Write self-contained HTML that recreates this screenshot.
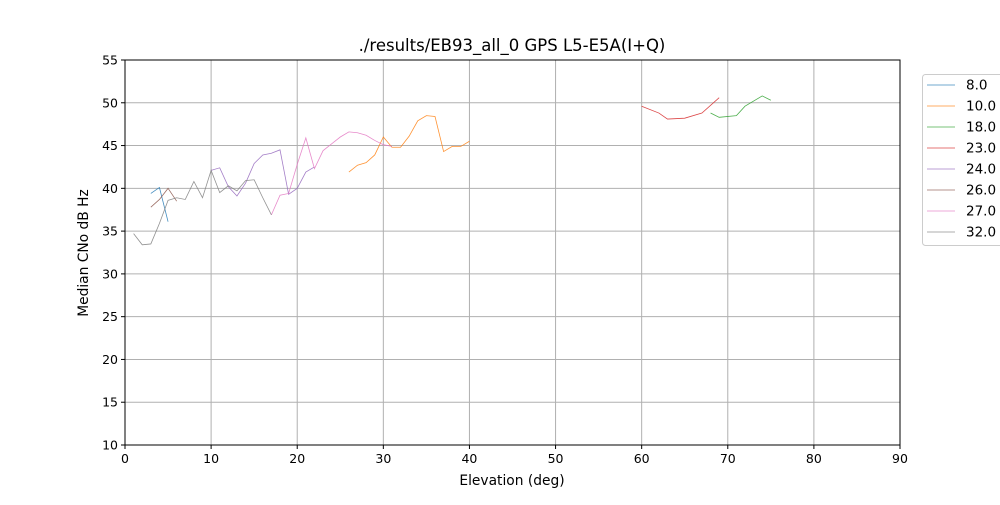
<!DOCTYPE html>
<html><head><meta charset="utf-8"><style>
body{margin:0;background:#fff;font-family:"Liberation Sans","DejaVu Sans",sans-serif}
</style></head><body>
<svg id="chart" width="1000" height="500" xmlns="http://www.w3.org/2000/svg" font-family="DejaVu Sans, Liberation Sans, sans-serif">
<rect width="1000" height="500" fill="#fff"/>
<g id="grid"></g><g id="series"></g><g id="axes"></g>
</svg>
<script>
const xTicks=[0,10,20,30,40,50,60,70,80,90];
const yTicks=[10,15,20,25,30,35,40,45,50,55];
const seriesNames=["8.0","10.0","18.0","23.0","24.0","26.0","27.0","32.0"];
const seriesColors=["#1f77b4","#ff7f0e","#2ca02c","#d62728","#9467bd","#8c564b","#e377c2","#7f7f7f"];
const x8=[3,4,5]; const y8=[39.4,40.1,36.1];
const x10=[26,27,28,29,30,31,32,33,34,35,36,37,38,39,40];
const y10=[41.9,42.7,43.0,43.9,46.0,44.8,44.8,46.1,47.9,48.5,48.4,44.3,44.9,44.9,45.5];
const x18=[68,69,71,72,74,75]; const y18=[48.8,48.3,48.5,49.6,50.8,50.3];
const x23=[60,62,63,65,67,69]; const y23=[49.6,48.8,48.1,48.2,48.8,50.6];
const x24=[10,11,12,13,14,15,16,17,18,19,20,21,22];
const y24=[42.1,42.4,40.2,39.1,40.6,42.9,43.9,44.1,44.5,39.3,40.0,41.9,42.5];
const x26=[3,4,5,6]; const y26=[37.8,38.7,40.0,38.5];
const x27=[17,18,19,20,21,22,23,24,25,26,27,28,29,30,31];
const y27=[36.9,39.2,39.4,42.8,45.9,42.3,44.4,45.2,46.0,46.6,46.5,46.2,45.6,45.1,44.9];
const x32=[1,2,3,4,5,6,7,8,9,10,11,12,13,14,15,16,17];
const y32=[34.7,33.4,33.5,35.9,38.6,38.9,38.7,40.8,38.9,42.1,39.5,40.3,39.7,40.9,41.0,38.9,36.9];
const seriesX=[x8,x10,x18,x23,x24,x26,x27,x32];
const seriesY=[y8,y10,y18,y23,y24,y26,y27,y32];
const L=125,R=900,T=60,B=445;
const sx=v=>L+(v-0)/(90-0)*(R-L);
const sy=v=>B-(v-10)/(55-10)*(B-T);
const NS="http://www.w3.org/2000/svg";
function mk(tag,attrs,parent){const e=document.createElementNS(NS,tag);for(const k in attrs)e.setAttribute(k,attrs[k]);parent.appendChild(e);return e;}
const grid=document.getElementById('grid'),ser=document.getElementById('series'),ax=document.getElementById('axes');
xTicks.forEach(t=>{const l=mk('line',{x1:sx(t),x2:sx(t),y1:T,y2:B,stroke:'#b0b0b0','stroke-width':1},grid);


mk('line',{x1:sx(t),x2:sx(t),y1:B,y2:B+4,stroke:'#000'},ax);
const tx=mk('text',{x:sx(t),y:B+18,'text-anchor':'middle','font-size':12.5},ax);tx.textContent=t;

});
yTicks.forEach(t=>{const l=mk('line',{x1:L,x2:R,y1:sy(t),y2:sy(t),stroke:'#b0b0b0','stroke-width':1},grid);


mk('line',{x1:L-4,x2:L,y1:sy(t),y2:sy(t),stroke:'#000'},ax);
const tx=mk('text',{x:L-7,y:sy(t)+4.5,'text-anchor':'end','font-size':12.5},ax);tx.textContent=t;

});
const frame=mk('rect',{x:L,y:T,width:R-L,height:B-T,fill:'none',stroke:'#000','stroke-width':1},ax);


seriesX.forEach((xs,i)=>{const pts=xs.map((x,j)=>sx(x)+','+sy(seriesY[i][j])).join(' ');
const p=mk('polyline',{points:pts,fill:'none',stroke:seriesColors[i],'stroke-width':0.8,'stroke-opacity':0.85},ser);

});
const title=mk('text',{x:512,y:51,'text-anchor':'middle','font-size':16.5},ax);title.textContent='./results/EB93_all_0 GPS L5-E5A(I+Q)';


const xl=mk('text',{x:512,y:485,'text-anchor':'middle','font-size':13.8},ax);xl.textContent='Elevation (deg)';


const yl=mk('text',{x:88,y:253,'text-anchor':'middle','font-size':13.8,transform:'rotate(-90 88 253)'},ax);yl.textContent='Median CNo dB Hz';


const lg=mk('g',{},ax);


mk('rect',{x:922.5,y:74.5,width:85,height:171,rx:3,fill:'#fff',stroke:'#ccc'},lg);
seriesNames.forEach((n,i)=>{const y=85+i*21;
const e=mk('g',{},lg);


mk('line',{x1:927,x2:955,y1:y,y2:y,stroke:seriesColors[i],'stroke-width':0.8,'stroke-opacity':0.85},e);
const t=mk('text',{x:966,y:y+4.5,'font-size':13.5},e);t.textContent=n;});
</script>
</body></html>
